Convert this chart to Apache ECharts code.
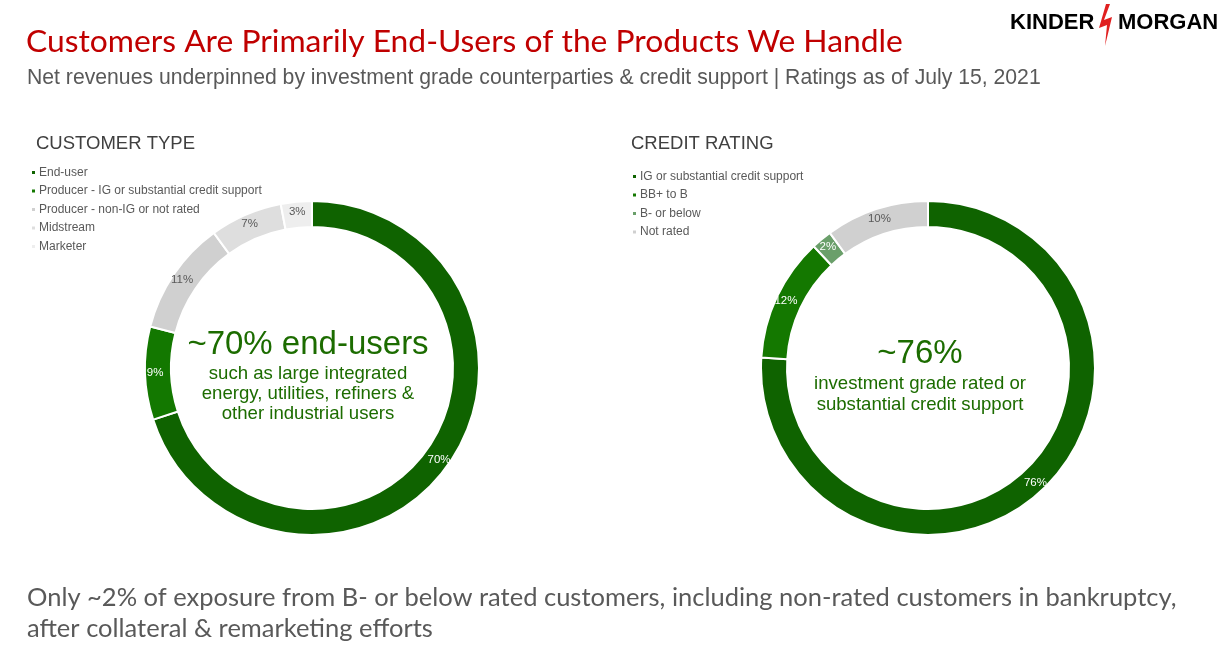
<!DOCTYPE html>
<html><head><meta charset="utf-8">
<script src="https://cdn.jsdelivr.net/npm/echarts@6/dist/echarts.min.js"></script>
<style>html,body{margin:0;padding:0;background:#fff}#c{width:1223px;height:649px}</style>
</head><body><div id="c"></div>
<script>
const customerTypes = ['End-user','Producer - IG or substantial credit support','Producer - non-IG or not rated','Midstream','Marketer'];
const customerShares = [70, 9, 11, 7, 3];
const customerColors = ['#0f6300','#137800','#d0d0d0','#dedede','#eeeeee'];
const customerLabelColors = ['#ffffff','#ffffff','#595959','#595959','#595959'];

const creditRatings = ['IG or substantial credit support','BB+ to B','B- or below','Not rated'];
const creditShares = [76, 12, 2, 10];
const creditColors = ['#0f6300','#147800','#6a9f6a','#d0d0d0'];
const creditLabelColors = ['#ffffff','#ffffff','#ffffff','#595959'];

const title = 'Customers Are Primarily End-Users of the Products We Handle';
const subtitle = 'Net revenues underpinned by investment grade counterparties & credit support | Ratings as of July 15, 2021';
const footer = ['Only ~2% of exposure from B- or below rated customers, including non-rated customers in bankruptcy,', 'after collateral & remarketing efforts'];

const chart = echarts.init(document.getElementById('c'), null, {renderer:'canvas'});
const SANS = '"Liberation Sans", Arial, sans-serif';
const GREEN = '#1c6c00';

function pieData(names, vals, colors, lc){
  return names.map((n,i)=>({name:n, value:vals[i], itemStyle:{color:colors[i]}, label:{color:lc[i]}}));
}
function legendData(names, colors){
  return names.map((n,i)=>({name:n, itemStyle:{color:colors[i]}}));
}
const legendBase = {orient:'vertical', icon:'rect', itemWidth:5, itemHeight:5, itemGap:5.5, padding:0, selectedMode:false,
  textStyle:{fontSize:12, color:'#595959', fontFamily:SANS, lineHeight:13, padding:[0,0,0,-2]}};

chart.setOption({
  animation:false,
  legend:[
    Object.assign({}, legendBase, {left:30, top:166, data:legendData(customerTypes, customerColors)}),
    Object.assign({}, legendBase, {left:631, top:170, data:legendData(creditRatings, creditColors)})
  ],
  series:[
    {type:'pie', center:[312,368], radius:[141,167], startAngle:90, clockwise:true,
     itemStyle:{borderColor:'#fff', borderWidth:2},
     label:{show:true, position:'inside', formatter:'{c}%', fontSize:11.5, fontFamily:SANS},
     labelLine:{show:false},
     data:pieData(customerTypes, customerShares, customerColors, customerLabelColors)},
    {type:'pie', center:[928,368], radius:[141,167], startAngle:90, clockwise:true,
     itemStyle:{borderColor:'#fff', borderWidth:2},
     label:{show:true, position:'inside', formatter:'{c}%', fontSize:11.5, fontFamily:SANS},
     labelLine:{show:false},
     data:pieData(creditRatings, creditShares, creditColors, creditLabelColors)}
  ],
  graphic:[
    {type:'text', left:26, top:26, style:{text:title, fill:'#c00000', font:'31.8px Lato, sans-serif'}},
    {type:'text', left:27, top:68, style:{text:subtitle, fill:'#595959', font:'21.2px '+SANS}},
    {type:'text', left:36, top:134, style:{text:'CUSTOMER TYPE', fill:'#404040', font:'18.5px '+SANS}},
    {type:'text', left:631, top:134, style:{text:'CREDIT RATING', fill:'#404040', font:'18.5px '+SANS}},
    // left center text
    {type:'text', x:308, y:345, style:{text:'~70% end-users', fill:GREEN, font:'33px '+SANS, align:'center', verticalAlign:'middle'}},
    {type:'text', x:308, y:394, style:{text:'such as large integrated\nenergy, utilities, refiners &\nother industrial users', fill:GREEN, font:'18.6px '+SANS, align:'center', verticalAlign:'middle', lineHeight:20}},
    // right center text
    {type:'text', x:920, y:354, style:{text:'~76%', fill:GREEN, font:'33px '+SANS, align:'center', verticalAlign:'middle'}},
    {type:'text', x:920, y:394, style:{text:'investment grade rated or\nsubstantial credit support', fill:GREEN, font:'18.6px '+SANS, align:'center', verticalAlign:'middle', lineHeight:21}},
    // footer
    {type:'text', left:27, top:582, style:{text:footer.join('\n'), fill:'#595959', font:'25.5px Lato, sans-serif', lineHeight:31}},
    // logo
    {type:'text', left:1010, top:12, style:{text:'KINDER', fill:'#000', font:'bold 22px '+SANS}},
    {type:'text', left:1118, top:12, style:{text:'MORGAN', fill:'#000', font:'bold 22px '+SANS}},
    {type:'polygon', shape:{points:[[1106,4],[1110,4],[1104,20],[1112,17],[1105,46],[1107,25],[1099,28]]}, style:{fill:'#e02020'}}
  ]
});
</script></body></html>
